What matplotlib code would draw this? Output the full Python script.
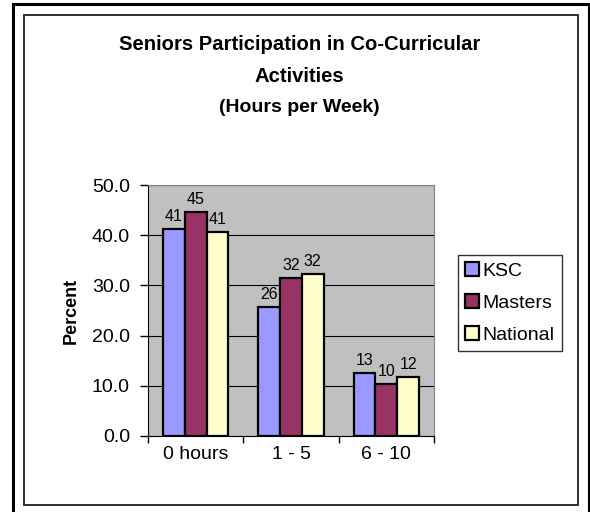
import matplotlib.pyplot as plt
import numpy as np
from matplotlib.patches import Rectangle

plt.rcParams['font.family'] = ['Liberation Sans', 'DejaVu Sans']

categories = ['0 hours', '1 - 5', '6 - 10']
ksc = [41.2, 25.6, 12.6]
masters = [44.7, 31.5, 10.4]
national = [40.6, 32.3, 11.7]
ksc_labels = ['41', '26', '13']
masters_labels = ['45', '32', '10']
national_labels = ['41', '32', '12']

W, H = 590, 512
fig = plt.figure(figsize=(W/100, H/100), dpi=100)

def px_rect(x0, y0, x1, y1, **kw):
    # rectangle given in pixel coords (top-left origin)
    return Rectangle((x0/W, 1 - y1/H), (x1-x0)/W, (y1-y0)/H,
                     transform=fig.transFigure, fill=False, **kw)

# outer frame (cut off at bottom) and chart area frame
fig.patches.append(px_rect(13, 4, 589, 530, edgecolor='black', linewidth=2.2))
fig.patches.append(px_rect(24, 15, 578, 505, edgecolor='#303030', linewidth=1.4))

ax = fig.add_axes([148/W, 1 - 436/H, (434-148)/W, (436-185)/H])
ax.set_facecolor('#C0C0C0')

x = np.arange(len(categories))
w = 0.228
series = [(ksc, ksc_labels, '#9999FF', 'KSC'),
          (masters, masters_labels, '#993366', 'Masters'),
          (national, national_labels, '#FFFFCC', 'National')]
for i, (vals, labs, col, name) in enumerate(series):
    pos = x + (i - 1) * w
    ax.bar(pos, vals, width=w, color=col, edgecolor='black', linewidth=1.6, label=name, zorder=3)
    for p, v, t in zip(pos, vals, labs):
        ax.text(p, v + 1.0, t, ha='center', va='bottom', fontsize=11.5, zorder=4)

ax.set_ylim(0, 50)
ax.set_xlim(-0.5, 2.5)
ax.set_yticks([0, 10, 20, 30, 40, 50])
ax.set_yticklabels(['%.1f' % t for t in [0, 10, 20, 30, 40, 50]], fontsize=14)
ax.yaxis.grid(True, color='black', linewidth=0.8, zorder=0)
ax.set_xticks([-0.5, 0.5, 1.5, 2.5])
ax.set_xticklabels([])
ax.set_xticks(x, minor=True)
ax.set_xticklabels(categories, minor=True, fontsize=14)
ax.tick_params(axis='x', which='minor', length=0, pad=7)
ax.tick_params(axis='x', which='major', length=5, width=1)
ax.tick_params(axis='y', length=6, width=1, pad=7)
for s in ['top', 'right']:
    ax.spines[s].set_color('#808080')
for s in ['left', 'bottom']:
    ax.spines[s].set_color('black')
ax.set_ylabel('Percent', fontsize=13, fontweight='bold', labelpad=9)

fig.text(0.508, 1 - 45/H, 'Seniors Participation in Co-Curricular', ha='center', va='center',
         fontsize=14.6, fontweight='bold')
fig.text(0.508, 1 - 76/H, 'Activities', ha='center', va='center', fontsize=14.6, fontweight='bold')
fig.text(0.508, 1 - 108/H, '(Hours per Week)', ha='center', va='center', fontsize=14, fontweight='bold')

leg = fig.legend(loc='center', bbox_to_anchor=(510/W, 1 - 303/H), fontsize=14,
                 frameon=True, fancybox=False, edgecolor='black', handlelength=0.7,
                 handleheight=0.7, handletextpad=0.2, borderpad=0.35, labelspacing=0.75,
                 borderaxespad=0)
leg.get_frame().set_linewidth(1)

fig.savefig('out.png', dpi=100)
